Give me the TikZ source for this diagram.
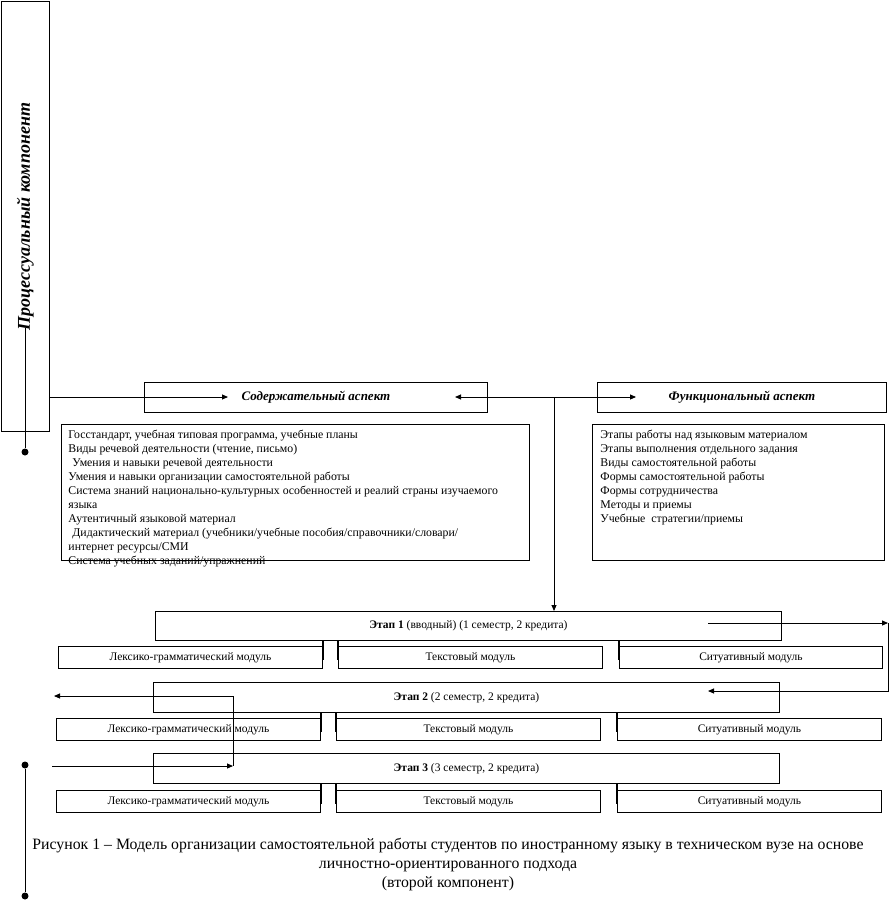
\documentclass[tikz,border=0pt]{standalone}
\usepackage{fontspec}
\setmainfont{Liberation Serif}
\usetikzlibrary{arrows.meta}
\begin{document}
\begin{tikzpicture}[x=1pt,y=-1pt,line width=0.9pt,
  box/.style={draw, anchor=north west, inner sep=0pt},
  arr/.style={-{Triangle[length=6pt,width=5pt]}},
  dot/.style={circle, fill, inner sep=0pt, minimum size=7pt},
  conn/.style={line width=1.6pt},
  mfont/.style={font=\fontsize{11.5}{14}\selectfont},
  lfont/.style={font=\fontsize{11.8}{14}\selectfont},
  afont/.style={font=\fontsize{13}{15}\selectfont\bfseries\itshape},
  listtext/.style={anchor=north west, inner sep=0pt, align=left, lfont},
  stagebox/.style={box, minimum width=626pt, minimum height=29pt, mfont},
  modbox/.style={box, minimum width=264pt, minimum height=22pt, mfont}
]
\useasboundingbox (0,0) rectangle (890,901);

% vertical component box
\node[box, minimum width=48pt, minimum height=430pt] (proc) at (1,1)
  {\rotatebox{90}{\fontsize{18}{20}\selectfont\bfseries\itshape Процессуальный компонент}};

% aspects
\node[box, minimum width=343pt, minimum height=30pt, afont] (sod) at (144,382) {Содержательный аспект};
\node[box, minimum width=289pt, minimum height=30pt, afont] (fun) at (597,382) {Функциональный аспект};

% lists
\node[box, minimum width=468pt, minimum height=136pt] (sodlist) at (61,424) {};
\node[listtext] (sodtext) at (68,430) {Госстандарт, учебная типовая программа, учебные планы\\
Виды речевой деятельности (чтение, письмо)\\
\hspace*{4pt}Умения и навыки речевой деятельности\\
Умения и навыки организации самостоятельной работы\\
Система знаний национально-культурных особенностей и реалий страны изучаемого\\
языка\\
Аутентичный языковой материал\\
\hspace*{4pt}Дидактический материал (учебники/учебные пособия/справочники/словари/\\
интернет ресурсы/СМИ\\
Система учебных заданий/упражнений};

\node[box, minimum width=292pt, minimum height=136pt] (funlist) at (592,424) {};
\node[listtext] (funtext) at (600,430) {Этапы работы над языковым материалом\\
Этапы выполнения отдельного задания\\
Виды самостоятельной работы\\
Формы самостоятельной работы\\
Формы сотрудничества\\
Методы и приемы\\
Учебные\ \ стратегии/приемы};

% stages
\node[stagebox] (st1) at (155,611) {\raisebox{1.5pt}{\textbf{Этап 1} (вводный) (1 семестр, 2 кредита)}};
\node[stagebox, minimum height=30pt] (st2) at (153,682) {\raisebox{1.5pt}{\textbf{Этап 2} (2 семестр, 2 кредита)}};
\node[stagebox, minimum height=30pt] (st3) at (153,753) {\raisebox{1.5pt}{\textbf{Этап 3} (3 семестр, 2 кредита)}};

% modules
\node[modbox] (ml1) at (58,646) {Лексико-грамматический модуль};
\node[modbox] (mt1) at (338,646) {Текстовый модуль};
\node[modbox, minimum width=263pt] (ms1) at (619,646) {Ситуативный модуль};
\node[modbox] (ml2) at (56,718) {Лексико-грамматический модуль};
\node[modbox] (mt2) at (336,718) {Текстовый модуль};
\node[modbox] (ms2) at (617,718) {Ситуативный модуль};
\node[modbox] (ml3) at (56,790) {Лексико-грамматический модуль};
\node[modbox] (mt3) at (336,790) {Текстовый модуль};
\node[modbox] (ms3) at (617,790) {Ситуативный модуль};

% caption
\node[font=\fontsize{15.8}{19}\selectfont, align=center] (cap) at (448,865)
  {Рисунок 1 – Модель организации самостоятельной работы студентов по иностранному языку в техническом вузе на основе\\
   личностно-ориентированного подхода\\
   (второй компонент)};

% connectors: left spine
\coordinate (pt) at (25,328);
\node[dot] (d1) at (25,452) {};
\draw (pt) -- (d1);
\node[dot] (d2) at (25,765) {};
\node[dot] (d3) at (25,896) {};
\draw (d2) -- (d3);

% to content aspect
\coordinate (sodtip) at (228,397);
\draw[arr] (proc.east |- sodtip) -- (sodtip);

% hub between aspects
\coordinate (hub) at (554,397);
\coordinate (sodin) at (455,397);
\coordinate (funin) at (636,397);
\draw[arr] (hub) -- (sodin);
\draw[arr] (hub) -- (funin);
\draw[arr] (hub) -- (hub |- st1.north);

% stage 1 -> stage 2 loop
\coordinate (s1out) at (708,623);
\coordinate (loopA) at (888,623);
\coordinate (loopB) at (888,691);
\coordinate (s2in) at (708,691);
\draw[arr] (s1out) -- (loopA);
\draw[arr] (loopA) -- (loopB) -- (s2in);

% stage 2 -> stage 3
\coordinate (s2out) at (233,696);
\coordinate (lefttip) at (54,696);
\coordinate (s3in) at (233,766);
\coordinate (leftstart) at (52,766);
\draw[arr] (s2out) -- (lefttip);
\draw (s2out) -- (s3in);
\draw[arr] (leftstart) -- (s3in);

% stage-to-module ticks
\draw[conn] (ml1.north east |- st1.south) -- ([yshift=-14pt]ml1.north east);
\draw[conn] (mt1.north west |- st1.south) -- ([yshift=-14pt]mt1.north west);
\draw[conn] (ms1.north west |- st1.south) -- ([yshift=-14pt]ms1.north west);
\draw[conn] (ml2.north east |- st2.south) -- ([yshift=-14pt]ml2.north east);
\draw[conn] (mt2.north west |- st2.south) -- ([yshift=-14pt]mt2.north west);
\draw[conn] (ms2.north west |- st2.south) -- ([yshift=-14pt]ms2.north west);
\draw[conn] (ml3.north east |- st3.south) -- ([yshift=-14pt]ml3.north east);
\draw[conn] (mt3.north west |- st3.south) -- ([yshift=-14pt]mt3.north west);
\draw[conn] (ms3.north west |- st3.south) -- ([yshift=-14pt]ms3.north west);
\end{tikzpicture}
\end{document}
